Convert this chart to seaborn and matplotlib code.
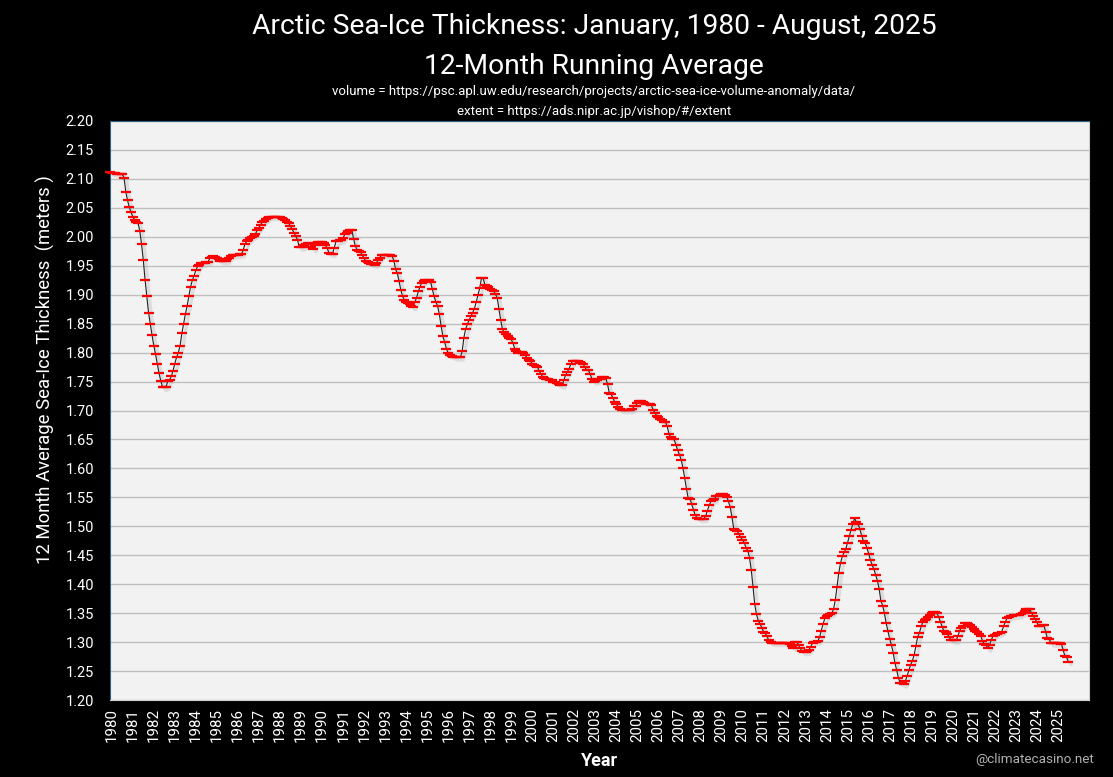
import matplotlib
matplotlib.use('Agg')
import matplotlib.patheffects as pe
import matplotlib.pyplot as plt
from matplotlib.transforms import ScaledTranslation
import numpy as np
import pandas as pd
import seaborn as sns

# monthly values, one row per year
thickness_1980s = [
    2.112, 2.111, 2.110, 2.110, 2.109, 2.108, 2.108, 2.108, 2.102, 2.078, 2.063, 2.051,
    2.042, 2.035, 2.029, 2.026, 2.024, 2.010, 1.987, 1.960, 1.926, 1.898, 1.869, 1.849,
    1.830, 1.812, 1.797, 1.780, 1.764, 1.751, 1.740, 1.740, 1.741, 1.751, 1.753, 1.759,
    1.769, 1.781, 1.792, 1.800, 1.812, 1.833, 1.850, 1.866, 1.880, 1.897, 1.914, 1.925,
    1.933, 1.942, 1.949, 1.952, 1.954, 1.954, 1.955, 1.956, 1.957, 1.963, 1.965, 1.966,
    1.965, 1.963, 1.961, 1.959, 1.958, 1.958, 1.958, 1.961, 1.964, 1.967, 1.968, 1.969,
    1.969, 1.969, 1.970, 1.970, 1.977, 1.987, 1.992, 1.995, 1.998, 2.000, 2.002, 2.005,
    2.011, 2.016, 2.021, 2.026, 2.028, 2.030, 2.033, 2.034, 2.035, 2.035, 2.035, 2.035,
    2.035, 2.034, 2.033, 2.031, 2.029, 2.026, 2.024, 2.018, 2.013, 2.007, 2.001, 1.995,
    1.982, 1.982, 1.983, 1.985, 1.987, 1.989, 1.990, 1.983, 1.979, 1.985, 1.990, 1.991,
]
thickness_1990s = [
    1.991, 1.991, 1.989, 1.985, 1.980, 1.972, 1.971, 1.971, 1.981, 1.992, 1.992, 1.994,
    1.994, 1.998, 2.004, 2.007, 2.010, 2.012, 2.012, 1.997, 1.984, 1.978, 1.976, 1.974,
    1.968, 1.963, 1.958, 1.956, 1.955, 1.953, 1.953, 1.952, 1.954, 1.960, 1.964, 1.968,
    1.969, 1.969, 1.969, 1.969, 1.969, 1.967, 1.959, 1.944, 1.937, 1.923, 1.908, 1.897,
    1.891, 1.888, 1.886, 1.884, 1.880, 1.879, 1.887, 1.895, 1.906, 1.914, 1.921, 1.924,
    1.925, 1.925, 1.925, 1.922, 1.909, 1.897, 1.887, 1.880, 1.866, 1.846, 1.828, 1.818,
    1.807, 1.799, 1.795, 1.794, 1.793, 1.792, 1.792, 1.792, 1.792, 1.802, 1.826, 1.841,
    1.849, 1.856, 1.863, 1.869, 1.876, 1.887, 1.899, 1.911, 1.928, 1.928, 1.917, 1.915,
    1.913, 1.910, 1.908, 1.906, 1.901, 1.894, 1.875, 1.856, 1.840, 1.835, 1.832, 1.828,
    1.826, 1.823, 1.816, 1.807, 1.802, 1.800, 1.801, 1.801, 1.800, 1.796, 1.791, 1.787,
]
thickness_2000s = [
    1.786, 1.780, 1.778, 1.776, 1.775, 1.768, 1.763, 1.758, 1.756, 1.755, 1.754, 1.753,
    1.752, 1.750, 1.749, 1.748, 1.746, 1.744, 1.744, 1.752, 1.761, 1.767, 1.772, 1.780,
    1.786, 1.786, 1.786, 1.785, 1.783, 1.782, 1.781, 1.775, 1.770, 1.770, 1.763, 1.755,
    1.750, 1.751, 1.753, 1.755, 1.755, 1.757, 1.758, 1.756, 1.745, 1.730, 1.728, 1.722,
    1.715, 1.712, 1.706, 1.702, 1.701, 1.701, 1.701, 1.701, 1.701, 1.701, 1.702, 1.707,
    1.708, 1.713, 1.716, 1.716, 1.715, 1.713, 1.712, 1.712, 1.712, 1.709, 1.701, 1.696,
    1.691, 1.688, 1.685, 1.683, 1.681, 1.680, 1.673, 1.660, 1.654, 1.651, 1.650, 1.641,
    1.631, 1.624, 1.615, 1.601, 1.584, 1.565, 1.549, 1.548, 1.538, 1.529, 1.519, 1.515,
    1.513, 1.513, 1.513, 1.513, 1.518, 1.527, 1.536, 1.543, 1.545, 1.547, 1.552, 1.553,
    1.554, 1.555, 1.555, 1.554, 1.551, 1.543, 1.533, 1.516, 1.496, 1.493, 1.492, 1.486,
]
thickness_2010s = [
    1.481, 1.476, 1.472, 1.463, 1.458, 1.446, 1.425, 1.396, 1.365, 1.348, 1.337, 1.332,
    1.325, 1.318, 1.315, 1.310, 1.303, 1.300, 1.299, 1.299, 1.299, 1.299, 1.299, 1.299,
    1.299, 1.299, 1.299, 1.298, 1.296, 1.293, 1.290, 1.301, 1.301, 1.295, 1.289, 1.284,
    1.283, 1.283, 1.284, 1.287, 1.292, 1.299, 1.301, 1.301, 1.302, 1.308, 1.320, 1.331,
    1.341, 1.345, 1.347, 1.349, 1.350, 1.357, 1.373, 1.396, 1.420, 1.437, 1.448, 1.455,
    1.461, 1.472, 1.483, 1.494, 1.504, 1.514, 1.507, 1.504, 1.495, 1.484, 1.475, 1.471,
    1.463, 1.453, 1.442, 1.433, 1.426, 1.416, 1.406, 1.392, 1.371, 1.363, 1.350, 1.333,
    1.319, 1.306, 1.295, 1.282, 1.264, 1.252, 1.238, 1.230, 1.229, 1.227, 1.233, 1.242,
    1.251, 1.261, 1.268, 1.278, 1.294, 1.309, 1.316, 1.327, 1.335, 1.338, 1.340, 1.343,
    1.346, 1.350, 1.352, 1.352, 1.350, 1.343, 1.335, 1.326, 1.319, 1.318, 1.314, 1.308,
]
thickness_2020s = [
    1.304, 1.303, 1.303, 1.303, 1.311, 1.320, 1.325, 1.328, 1.333, 1.333, 1.331, 1.329,
    1.326, 1.322, 1.319, 1.318, 1.314, 1.311, 1.302, 1.297, 1.295, 1.289, 1.295, 1.304,
    1.310, 1.313, 1.314, 1.315, 1.316, 1.318, 1.327, 1.335, 1.341, 1.344, 1.345, 1.345,
    1.346, 1.346, 1.347, 1.347, 1.349, 1.350, 1.353, 1.357, 1.357, 1.357, 1.350, 1.345,
    1.340, 1.334, 1.328, 1.328, 1.330, 1.330, 1.318, 1.307, 1.306, 1.298, 1.298, 1.298,
    1.298, 1.298, 1.298, 1.297, 1.287, 1.276, 1.274, 1.266,
]
thickness = thickness_1980s + thickness_1990s + thickness_2000s + thickness_2010s + thickness_2020s
years = list(range(1980, 2026))
y_ticks = [1.20, 1.25, 1.30, 1.35, 1.40, 1.45, 1.50, 1.55, 1.60, 1.65, 1.70,
           1.75, 1.80, 1.85, 1.90, 1.95, 2.00, 2.05, 2.10, 2.15, 2.20]

df = pd.DataFrame({'month': np.arange(len(thickness)), 'thickness': thickness})

sns.set_theme(style='white')
plt.rcParams['font.family'] = ['Roboto', 'DejaVu Sans']

W, H = 1113, 777
fig = plt.figure(figsize=(W / 100, H / 100), dpi=100, facecolor='black')
ax = fig.add_axes([110 / W, 1 - 700 / H, (1089 - 110) / W, (700 - 121) / H], facecolor='#f2f2f2')

# thin black line with a soft shadow
sns.lineplot(data=df, x='month', y='thickness', ax=ax, color='#222222', linewidth=0.8,
             zorder=3, path_effects=[
                 pe.SimpleLineShadow(offset=(2, -2), shadow_color='#aaaaaa', alpha=0.3, linewidth=2.4),
                 pe.Normal()])
# red dash on every month
sns.lineplot(data=df, x='month', y='thickness', ax=ax, linestyle='none', marker='_',
             markersize=6.6, markeredgewidth=1.6, color='#ff0000', markeredgecolor='#ff0000',
             zorder=4, clip_on=False)

ax.set_xlim(0, (1089 - 110) / 1.752)
ax.set_ylim(1.20, 2.20)
ax.set_yticks(y_ticks)
ax.set_yticklabels([f'{t:.2f}' for t in y_ticks], color='white', fontsize=10.5)
ax.set_xticks(np.arange(len(years)) * 12)
ax.set_xticklabels(years, rotation=90, color='white', fontsize=10.8)
ax.tick_params(axis='y', length=0, pad=11.5)
ax.tick_params(axis='x', length=0, pad=6)
# year labels sit about 2 px further right in the reference
for label in ax.get_xticklabels():
    label.set_transform(label.get_transform() + ScaledTranslation(0.02, 0, fig.dpi_scale_trans))
ax.grid(axis='y', color='#bfbfbf', linewidth=1.0)
ax.set_axisbelow(True)
ax.set_xlabel('')
ax.set_ylabel('')
for side, spine in ax.spines.items():
    spine.set_color('#2f6080' if side in ('left', 'top') else '#d0d0d0')
    spine.set_linewidth(0.8)

fig.text(594 / W, 1 - 27 / H, 'Arctic Sea-Ice Thickness: January, 1980 - August, 2025',
         color='white', fontsize=20.3, ha='center', va='center')
fig.text(594 / W, 1 - 66 / H, '12-Month Running Average',
         color='white', fontsize=20.3, ha='center', va='center')
fig.text(594 / W, 1 - 92 / H, 'volume = https://psc.apl.uw.edu/research/projects/arctic-sea-ice-volume-anomaly/data/',
         color='white', fontsize=9.55, ha='center', va='center')
fig.text(594 / W, 1 - 111 / H, 'extent = https://ads.nipr.ac.jp/vishop/#/extent',
         color='white', fontsize=9.55, ha='center', va='center')
fig.text(45 / W, 1 - 370 / H, '12 Month Average Sea-Ice Thickness  (meters )',
         color='white', fontsize=13.3, rotation=90, ha='center', va='center')
fig.text(600 / W, 1 - 761 / H, 'Year', color='white', fontsize=13, fontweight='bold',
         ha='center', va='center')
fig.text(1094 / W, 1 - 760 / H, '@climatecasino.net', color='#b0b0b0', fontsize=9.7,
         ha='right', va='center')

fig.savefig('out.png', dpi=100, facecolor='black')
